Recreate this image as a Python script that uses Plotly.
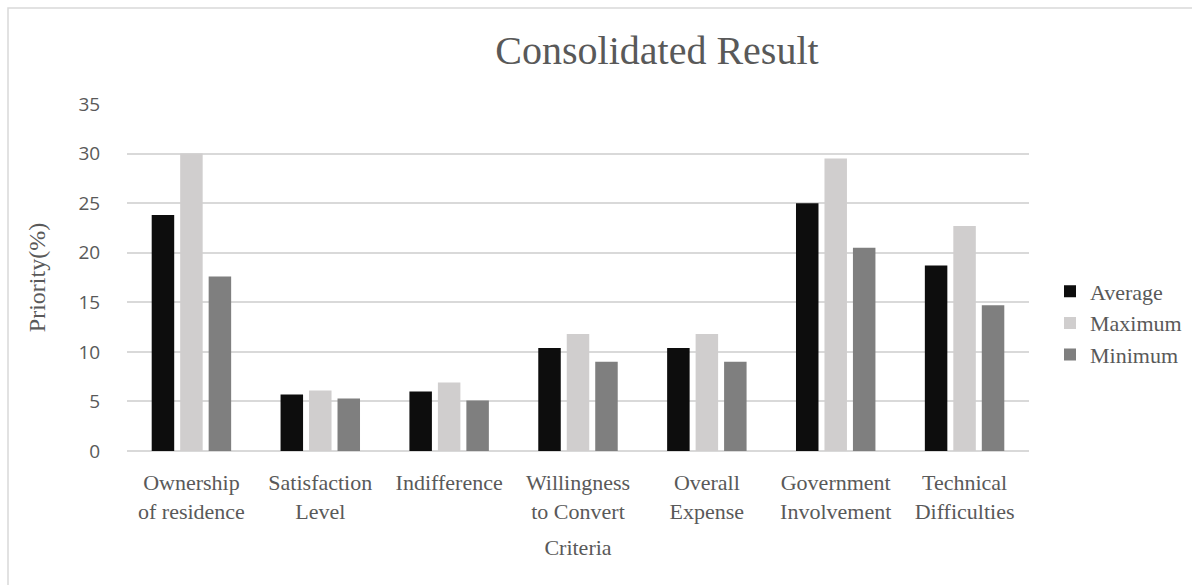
import plotly.graph_objects as go

categories = ["Ownership<br>of residence", "Satisfaction<br>Level", "Indifference",
              "Willingness<br>to Convert", "Overall<br>Expense",
              "Government<br>Involvement", "Technical<br>Difficulties"]
average = [23.8, 5.7, 6.0, 10.4, 10.4, 25.0, 18.7]
maximum = [30.0, 6.1, 6.9, 11.8, 11.8, 29.5, 22.7]
minimum = [17.6, 5.3, 5.1, 9.0, 9.0, 20.5, 14.7]
series = [("Average", average, "#0d0d0d"),
          ("Maximum", maximum, "#d0cece"),
          ("Minimum", minimum, "#7f7f7f")]
y_ticks = [0, 5, 10, 15, 20, 25, 30, 35]

serif = "Liberation Serif"
fig = go.Figure()
for name, vals, col in series:
    fig.add_trace(go.Bar(x=categories, y=vals, name=name,
                         marker=dict(color=col, line=dict(width=0))))

L, R, T, B = 127, 163, 104, 134
W, H = 1192, 585
pw, ph = W - L - R, H - T - B

fig.update_layout(
    width=W, height=H,
    margin=dict(l=L, r=R, t=T, b=B, autoexpand=False),
    paper_bgcolor="white", plot_bgcolor="white",
    barmode="group", bargap=0.337, bargroupgap=0.21,
    title=dict(text="Consolidated Result", font=dict(family=serif, size=40, color="#595959"),
               x=(657 - L) / pw, xref="paper", xanchor="center",
               y=1 - 50 / H, yref="container", yanchor="middle"),
    legend=dict(font=dict(family=serif, size=22, color="#595959"),
                itemwidth=30,
                x=(1050 - L) / pw, xanchor="left", y=(H - B - 323) / ph, yanchor="middle",
                bgcolor="rgba(0,0,0,0)"),
    xaxis=dict(tickfont=dict(family=serif, size=22, color="#595959"),
               ticks="outside", ticklen=12, tickcolor="rgba(0,0,0,0)",
               title=dict(text="Criteria", font=dict(family=serif, size=22, color="#595959"), standoff=16),
               showline=False, showgrid=False),
    yaxis=dict(range=[0, 35], tickvals=y_ticks, showgrid=True, gridcolor="#d9d9d9", gridwidth=1.5,
               zeroline=True, zerolinecolor="#d9d9d9", zerolinewidth=1.5,
               tickfont=dict(family="Open Sans", size=19, color="#595959"),
               ticks="outside", ticklen=22, tickcolor="rgba(0,0,0,0)",
               title=dict(text="Priority(%)", font=dict(family=serif, size=24, color="#595959"), standoff=26)),
    shapes=[dict(type="rect", xref="paper", yref="paper",
                 x0=(8 - L) / pw, x1=1.5, y0=-1.0, y1=(H - B - 8) / ph,
                 line=dict(color="#d9d9d9", width=1.5), fillcolor="rgba(0,0,0,0)", layer="below")],
    showlegend=True,
)
fig.write_html("out.html")
